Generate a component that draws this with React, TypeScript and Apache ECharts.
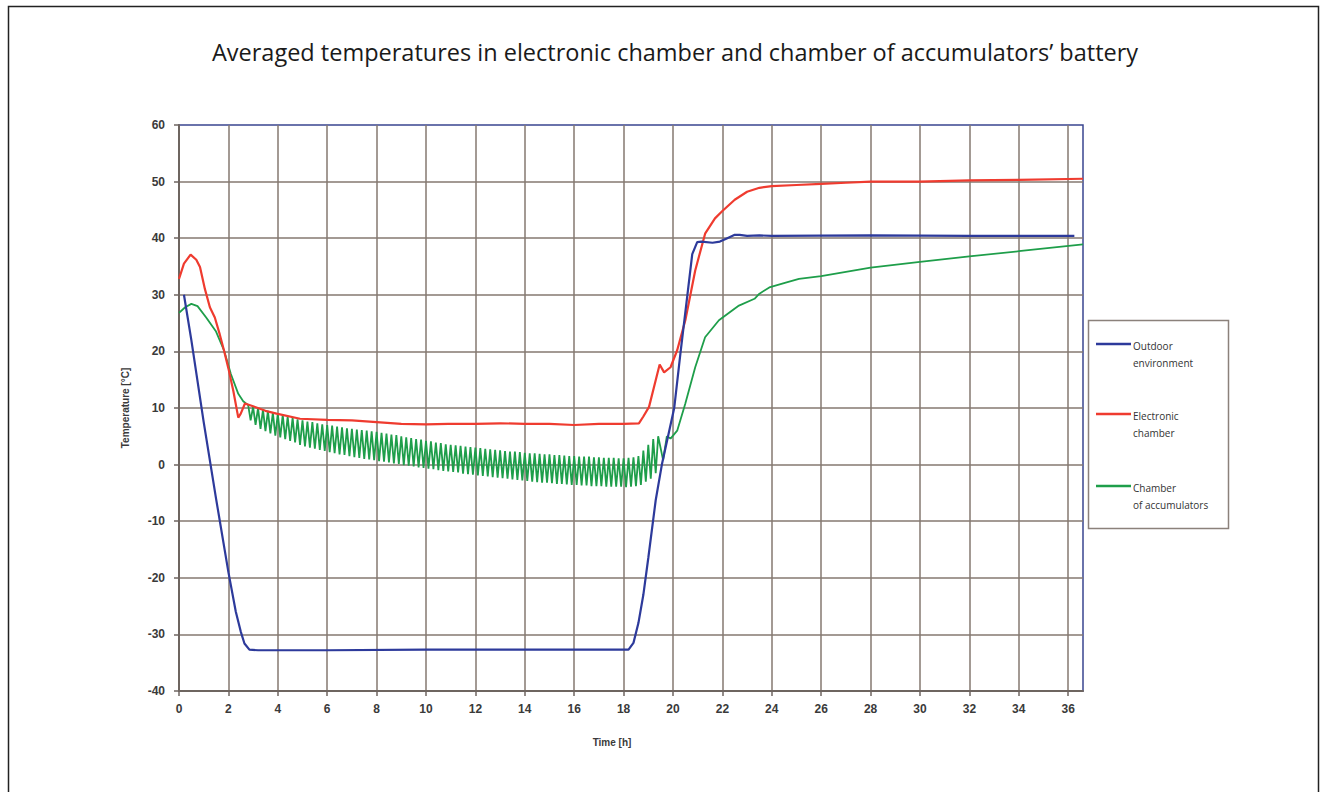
import React, { useEffect, useRef } from "react";
import * as echarts from "echarts";

const chartTitle =
  "Averaged temperatures in electronic chamber and chamber of accumulators\u2019 battery";
const seriesNames = ["Outdoor environment", "Electronic chamber", "Chamber of accumulators"];
const legendLines = [
  ["Outdoor", "environment"],
  ["Electronic", "chamber"],
  ["Chamber", "of accumulators"],
];
const xAxisName = "Time [h]";
const yAxisName = "Temperature [\u00b0C]";

// Outdoor environment [time h, temperature °C]
const outdoorPoints: number[][] = [
  [0.2, 30], [0.5, 22], [1, 7.5], [1.5, -6], [2, -19], [2.3, -26], [2.5, -29.5],
  [2.65, -31.6], [2.85, -32.7], [3.2, -32.8], [6, -32.8], [10, -32.7], [14, -32.7],
  [18.2, -32.7], [18.4, -31.5], [18.6, -28], [18.8, -23], [19, -16.5], [19.3, -6.3],
  [19.55, 0], [20.05, 10], [20.3, 19.6], [20.62, 31.3], [20.78, 37.2], [20.98, 39.3],
  [21.15, 39.4], [21.6, 39.2], [21.9, 39.4], [22.2, 40], [22.5, 40.6], [22.7, 40.6],
  [23, 40.4], [23.5, 40.5], [24, 40.4], [28, 40.5], [32, 40.4], [36.25, 40.4],
];

// Electronic chamber
const electronicPoints: number[][] = [
  [0, 32.8], [0.2, 35.5], [0.47, 37.1], [0.7, 36.2], [0.85, 34.9], [1.05, 31],
  [1.25, 27.8], [1.45, 26], [1.65, 23], [1.82, 20.2], [2, 17], [2.2, 13], [2.4, 8.3],
  [2.5, 9], [2.67, 10.8], [3, 10.3], [3.5, 9.5], [3.95, 9], [4.9, 8.1], [6, 7.9],
  [7, 7.8], [8, 7.5], [9, 7.2], [10, 7.1], [10.9, 7.2], [12, 7.2], [13, 7.3], [14, 7.2],
  [15, 7.2], [16, 7.0], [17, 7.2], [18, 7.2], [18.62, 7.3], [18.8, 8.5], [19.03, 10.2],
  [19.3, 14.9], [19.46, 17.7], [19.64, 16.3], [19.9, 17.2], [20.17, 20.2], [20.5, 25.5],
  [20.9, 34.3], [21.3, 40.8], [21.7, 43.5], [22, 44.8], [22.5, 46.8], [23, 48.2],
  [23.5, 48.9], [24, 49.2], [25, 49.4], [26, 49.6], [27, 49.8], [28, 50], [30, 50],
  [32, 50.2], [34, 50.3], [36.6, 50.5],
];

// Chamber of accumulators: start, oscillating section (one value per 0.1 h), end
const accumulatorStart: number[][] = [
  [0, 26.8], [0.25, 27.8], [0.5, 28.4], [0.75, 28], [1.1, 26], [1.5, 23.5],
  [1.82, 20.2], [2.1, 16], [2.4, 12.5], [2.6, 11.2],
];
const accumulatorOscStart = 2.8;
const accumulatorOscStep = 0.1;
const accumulatorOsc: number[] = [
  10.5, 7.8, 10.2, 7.0, 10.0, 6.3, 9.7, 5.9, 9.5, 5.5, 9.2, 5.1, 9.0, 4.8, 8.8, 4.5,
  8.5, 4.2, 8.3, 3.9, 8.0, 3.5, 7.8, 3.2, 7.6, 3.0, 7.5, 2.8, 7.3, 2.6, 7.1, 2.4,
  7.0, 2.2, 6.9, 2.0, 6.7, 1.8, 6.6, 1.7, 6.4, 1.5, 6.3, 1.3, 6.2, 1.2, 6.1, 1.0,
  6.0, 0.9, 5.9, 0.8, 5.8, 0.6, 5.6, 0.5, 5.5, 0.4, 5.3, 0.2, 5.2, 0.1, 5.0, -0.1,
  4.8, -0.2, 4.7, -0.3, 4.5, -0.5, 4.4, -0.6, 4.2, -0.7, 4.1, -0.8, 3.9, -1.0,
  3.8, -1.1, 3.6, -1.2, 3.5, -1.3, 3.4, -1.4, 3.3, -1.6, 3.2, -1.7, 3.1, -1.8,
  3.0, -1.9, 2.9, -2.0, 2.8, -2.1, 2.7, -2.2, 2.6, -2.3, 2.5, -2.4, 2.4, -2.5,
  2.3, -2.6, 2.3, -2.7, 2.2, -2.8, 2.1, -2.9, 2.0, -3.0, 2.0, -3.1, 1.9, -3.2,
  1.8, -3.2, 1.8, -3.3, 1.7, -3.4, 1.7, -3.4, 1.6, -3.5, 1.5, -3.6, 1.5, -3.6,
  1.4, -3.7, 1.4, -3.7, 1.4, -3.8, 1.3, -3.8, 1.3, -3.8, 1.2, -3.9, 1.2, -3.9,
  1.2, -3.9, 1.1, -3.9, 1.1, -4.0, 1.2, -3.9, 1.3, -3.8, 1.5, -3.6, 2.5, -3.0,
  3.5, -2.5, 4.5, -1.5, 5.0,
];
const accumulatorEnd: number[][] = [
  [19.6, 0.8], [19.75, 5], [19.9, 4.6], [20.17, 6], [20.5, 10.8], [20.9, 17.2],
  [21.3, 22.5], [21.86, 25.5], [22.67, 28.1], [23.3, 29.3], [23.5, 30.2], [23.9, 31.3],
  [24.6, 32.2], [25.1, 32.8], [26, 33.3], [28, 34.8], [30, 35.8], [32, 36.8],
  [34, 37.7], [36.6, 38.9],
];

const xMin = 0;
const xMax = 36.6;
const xInterval = 2;
const yMin = -40;
const yMax = 60;
const yInterval = 10;

const colors = ["#2d3a9b", "#ef3b2f", "#1e9e4a"];

export default function App() {
  const ref = useRef<HTMLDivElement>(null);

  useEffect(() => {
    document.body.style.margin = "0";
    if (!ref.current) return;
    const chart = echarts.init(ref.current, undefined, { renderer: "svg" });

    const accumulatorPoints: number[][] = [
      ...accumulatorStart,
      ...accumulatorOsc.map((v, i) => [
        +(accumulatorOscStart + i * accumulatorOscStep).toFixed(2),
        v,
      ]),
      ...accumulatorEnd,
    ];
    const seriesData = [outdoorPoints, electronicPoints, accumulatorPoints];

    const legendX = 1088;
    const legendY = 320;
    const legendRows = [344, 414, 486];
    const legendGraphics: any[] = [
      {
        type: "rect",
        shape: { x: legendX + 0.5, y: legendY + 0.5, width: 140, height: 208 },
        style: { fill: "#ffffff", stroke: "#8b817b", lineWidth: 1.5 },
      },
      {
        type: "rect",
        shape: { x: 8.5, y: 6.5, width: 1310, height: 820 },
        style: { fill: "none", stroke: "#222222", lineWidth: 1.5 },
        silent: true,
      },
    ];
    legendRows.forEach((y, i) => {
      legendGraphics.push({
        type: "line",
        shape: { x1: 1096, y1: y, x2: 1131, y2: y },
        style: { stroke: colors[i], lineWidth: 2.5 },
      });
      legendGraphics.push({
        type: "text",
        x: 1133,
        y: y - 7,
        style: {
          text: legendLines[i].join("\n"),
          fill: "#333333",
          font: '10px "Open Sans"',
          lineHeight: 17,
          textVerticalAlign: "top",
        },
      });
    });

    chart.setOption({
      animation: false,
      backgroundColor: "#ffffff",
      title: {
        text: chartTitle,
        left: 670,
        top: 35,
        textAlign: "center",
        textStyle: {
          fontFamily: "Open Sans",
          fontSize: 23.5,
          fontWeight: "normal",
          color: "#1a1a1a",
        },
      },
      grid: {
        left: 179,
        top: 125,
        width: 904,
        height: 566,
        show: true,
        borderColor: "#3a4590",
        borderWidth: 1.5,
        backgroundColor: "transparent",
      },
      xAxis: {
        type: "value",
        min: xMin,
        max: xMax,
        interval: xInterval,
        name: xAxisName,
        nameLocation: "middle",
        nameGap: 46,
        nameTextStyle: {
          fontFamily: "Liberation Sans",
          fontSize: 10,
          fontWeight: "bold",
          color: "#3a3a3a",
          padding: [0, 38, 0, 0],
        },
        axisLine: { show: true, onZero: false, lineStyle: { color: "#6e6560", width: 2 } },
        axisTick: { show: true, length: 5, lineStyle: { color: "#6e6560", width: 1.5 } },
        axisLabel: {
          showMaxLabel: false,
          margin: 12,
          fontFamily: "Liberation Sans",
          fontSize: 12,
          fontWeight: "bold",
          color: "#3a3a3a",
        },
        splitLine: {
          show: true,
          showMaxLine: false,
          showMinLine: false,
          lineStyle: { color: "#857870", width: 1.5 },
        },
      },
      yAxis: {
        type: "value",
        min: yMin,
        max: yMax,
        interval: yInterval,
        name: yAxisName,
        nameLocation: "middle",
        nameGap: 49,
        nameRotate: 90,
        nameTextStyle: {
          fontFamily: "Liberation Sans",
          fontSize: 10,
          fontWeight: "bold",
          color: "#3a3a3a",
        },
        axisLine: { show: true, lineStyle: { color: "#6e6560", width: 2 } },
        axisTick: { show: true, length: 5, lineStyle: { color: "#6e6560", width: 1.5 } },
        axisLabel: {
          margin: 14,
          fontFamily: "Liberation Sans",
          fontSize: 12,
          fontWeight: "bold",
          color: "#3a3a3a",
        },
        splitLine: {
          show: true,
          showMaxLine: false,
          showMinLine: false,
          lineStyle: { color: "#857870", width: 1.5 },
        },
      },
      series: seriesNames.map((name, i) => ({
        name,
        type: "line",
        data: seriesData[i],
        showSymbol: false,
        symbol: "none",
        smooth: false,
        lineStyle: { color: colors[i], width: i === 2 ? 1.8 : 2.2 },
        itemStyle: { color: colors[i] },
        z: 3 + (2 - i),
      })),
      graphic: legendGraphics,
    });

    return () => chart.dispose();
  }, []);

  return <div ref={ref} style={{ width: 1327, height: 792 }} />;
}
